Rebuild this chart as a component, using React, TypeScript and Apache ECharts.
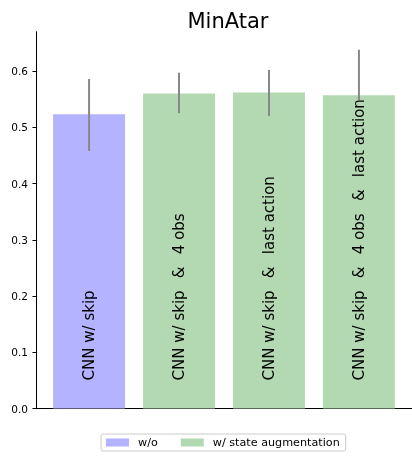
import React, { useEffect, useRef } from "react";
import * as echarts from "echarts";

const categories = [
  "CNN w/ skip",
  "CNN w/ skip & 4 obs",
  "CNN w/ skip & last action",
  "CNN w/ skip & 4 obs & last action",
];
const means = [0.523, 0.56, 0.562, 0.557];
const lowers = [0.458, 0.525, 0.52, 0.548];
const uppers = [0.586, 0.597, 0.602, 0.638];
const groups = ["w/o", "w/ state augmentation", "w/ state augmentation", "w/ state augmentation"];
const groupNames = ["w/o", "w/ state augmentation"];
const groupColors = ["#b3b3ff", "#b3d9b3"];
const yTicks = [0, 0.1, 0.2, 0.3, 0.4, 0.5, 0.6];

const FONT = "DejaVu Sans";

export default function App() {
  const ref = useRef<HTMLDivElement>(null);
  useEffect(() => {
    if (!ref.current) return;
    const chart = echarts.init(ref.current, null, { renderer: "svg" });

    const renderItem = (params: any, api: any) => {
      const x = api.value(0);
      const m = api.value(1);
      const lo = api.value(2);
      const hi = api.value(3);
      const pL = api.coord([x - 0.4, m]);
      const pR = api.coord([x + 0.4, 0]);
      const eTop = api.coord([x, hi]);
      const eBot = api.coord([x, lo]);
      const lab = api.coord([x, 0.05]);
      return {
        type: "group",
        children: [
          {
            type: "rect",
            shape: { x: pL[0], y: pL[1], width: pR[0] - pL[0], height: pR[1] - pL[1] },
            style: { fill: api.visual("color") },
          },
          {
            type: "line",
            shape: { x1: eTop[0], y1: eTop[1], x2: eBot[0], y2: eBot[1] },
            style: { stroke: "#888888", lineWidth: 2 },
          },
          {
            type: "text",
            x: lab[0],
            y: lab[1],
            rotation: Math.PI / 2,
            style: {
              text: categories[x].replace(/ & /g, "\u2002 & \u2002"),
              fontSize: 15,
              fontFamily: FONT,
              fill: "#000",
              align: "left",
              verticalAlign: "middle",
            },
          },
        ],
      };
    };

    const series = groupNames.map((g, gi) => ({
      type: "custom",
      name: g,
      renderItem,
      itemStyle: { color: groupColors[gi] },
      encode: { x: 0, y: 1 },
      data: categories
        .map((c, i) => (groups[i] === g ? [i, means[i], lowers[i], uppers[i]] : null))
        .filter((d) => d !== null),
    }));

    chart.setOption({
      animation: false,
      textStyle: { fontFamily: FONT },
      grid: { left: 36, right: -4, top: 31.7, bottom: 49.5 },
      graphic: [
        {
          type: "text",
          x: 228,
          y: 21,
          style: {
            text: "MinAtar",
            fontSize: 21,
            fontFamily: FONT,
            fill: "#000",
            align: "center",
            verticalAlign: "middle",
          },
        },
      ],
      xAxis: {
        type: "value",
        min: -0.59,
        max: 3.59,
        axisLine: { show: true, onZero: false, lineStyle: { color: "#000", width: 1 } },
        axisTick: { show: false },
        axisLabel: { show: false },
        splitLine: { show: false },
      },
      yAxis: {
        type: "value",
        min: 0,
        max: 0.67,
        axisLine: { show: true, onZero: false, lineStyle: { color: "#000", width: 1 } },
        axisTick: {
          show: true,
          length: 3.5,
          lineStyle: { color: "#000" },
          customValues: yTicks,
        },
        axisLabel: {
          customValues: yTicks,
          formatter: (v: number) => v.toFixed(1),
          fontSize: 10.5,
          fontFamily: FONT,
          color: "#000",
          margin: 8,
        },
        splitLine: { show: false },
      },
      legend: {
        data: groupNames,
        left: 101,
        top: 434,
        orient: "horizontal",
        icon: "rect",
        itemWidth: 23,
        itemHeight: 8,
        itemGap: 23,
        padding: [3, 6, 3, 5],
        borderColor: "#cccccc",
        borderWidth: 1,
        borderRadius: 2,
        textStyle: { fontSize: 11.2, fontFamily: FONT, color: "#000", padding: [0, 0, 0, 4] },
      },
      series,
    });
    return () => chart.dispose();
  }, []);
  return (
    <div
      ref={ref}
      style={{ position: "fixed", left: 0, top: 0, width: 412, height: 458 }}
    />
  );
}
